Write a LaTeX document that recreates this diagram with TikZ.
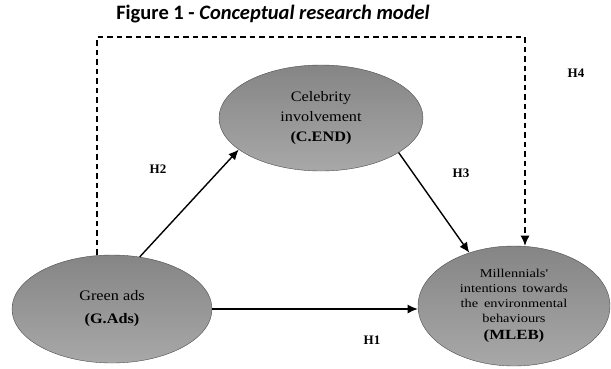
\documentclass[tikz,border=0pt]{standalone}
\usepackage{fontspec}
\setmainfont{Liberation Serif}
\newfontfamily\titlefont{Carlito}
\newfontfamily\ellfont[FakeStretch=1.12]{Liberation Serif}
\newfontfamily\wideellfont[FakeStretch=1.2,WordSpace=1.6]{Liberation Serif}
\usepackage{tikz}
\usetikzlibrary{arrows.meta,positioning,shapes.geometric}
\definecolor{EllTop}{HTML}{858585}
\definecolor{EllBot}{HTML}{A8A8A8}

\begin{document}
\begin{tikzpicture}[x=1pt,y=-1pt, every node/.style={font=\ellfont\fontsize{14.5}{20}\selectfont},
construct/.style={ellipse,draw=black!70,thin,top color=EllTop,bottom color=EllBot,align=center,inner sep=0pt},
arr/.style={-{Latex[length=3.6mm,width=3.2mm]},line width=1.4pt},
dasharr/.style={arr,dashed,dash pattern=on 5.5pt off 4pt},
hyp/.style={font=\rmfamily\fontsize{13}{15}\selectfont\bfseries}]
\useasboundingbox (0,0) rectangle (611,368);
\node[font=\titlefont\fontsize{20.5}{24}\selectfont\bfseries] (title) at (273,14) {Figure 1 - \textit{Conceptual research model}};
\node[construct,minimum width=200pt,minimum height=108pt,font=\ellfont\fontsize{14.5}{23}\selectfont] (gads) at (112,309) {Green ads\\\textbf{(G.Ads)}};
\node[construct,minimum width=204pt,minimum height=106pt] (cend) at (321,118) {Celebrity\\involvement\\\textbf{(C.END)}};
\node[construct,minimum width=192pt,minimum height=120pt,font=\wideellfont\fontsize{12}{15}\selectfont] (mleb) at (514,306) {Millennials'\\intentions towards\\the environmental\\behaviours\\[2pt]\textbf{\fontsize{14}{15}\selectfont(MLEB)}};
\coordinate (tl) at (97,37);
\coordinate (tr) at (525,37);
\draw[arr] (gads.east) -- (mleb.west |- gads.east);
\draw[arr] (gads.62) -- (cend.201.6);
\draw[arr] (cend.-24.7) -- (mleb.130);
\draw[dasharr] (tl |- gads.north) -- (tl) -- (tr) -- (tr |- mleb.north);
\node[hyp] (h1) at (372,340) {H1};
\node[hyp] (h2) at (158,169) {H2};
\node[hyp] (h3) at (461,173) {H3};
\node[hyp] (h4) at (576,73) {H4};
\end{tikzpicture}
\end{document}
